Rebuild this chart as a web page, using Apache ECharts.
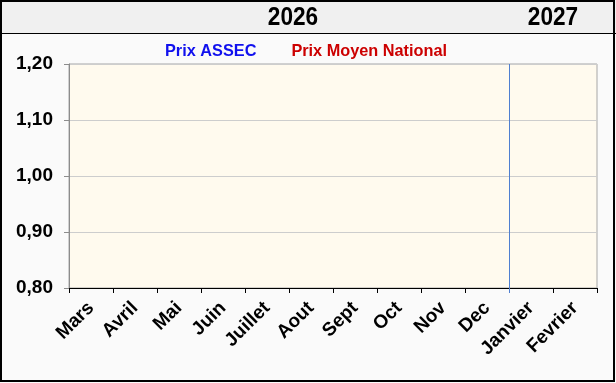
<!DOCTYPE html>
<html>
<head>
<meta charset="utf-8">
<script src="https://cdn.jsdelivr.net/npm/echarts@6/dist/echarts.min.js"></script>
<style>
  html, body { margin: 0; padding: 0; background: #fafafa; }
  #chart { width: 616px; height: 383px; }
</style>
</head>
<body>
<div id="chart"></div>
<script>
// ---- data ----
const categories = ['Mars', 'Avril', 'Mai', 'Juin', 'Juillet', 'Aout', 'Sept', 'Oct', 'Nov', 'Dec', 'Janvier', 'Fevrier'];
const years = ['2026', '2027'];
const yearFirstMonth = ['Mars', 'Janvier'];
const yearLastMonth = ['Dec', 'Fevrier'];
const prixAssec = [];          // no values plotted in the reference
const prixMoyenNational = [];  // no values plotted in the reference
const yMin = 0.8, yMax = 1.2, yInterval = 0.1;
const seriesNames = ['Prix ASSEC', 'Prix Moyen National'];
const seriesColors = ['#1010ee', '#cc0000'];
const separatorColor = '#4f7fd0';

const chart = echarts.init(document.getElementById('chart'), null, { renderer: 'canvas' });
const FONT = 'Liberation Sans, Arial, sans-serif';
const yearStartIdx = categories.indexOf(yearFirstMonth[1]);

const option = {
  backgroundColor: '#fafafa',
  animation: false,
  legend: {
    left: 155,
    top: 39,
    itemWidth: 0,
    itemHeight: 0,
    itemGap: 30,
    data: seriesNames.map((n, i) => ({
      name: n,
      icon: 'rect',
      textStyle: { color: seriesColors[i], fontWeight: 'bold', fontSize: 16.3, fontFamily: FONT }
    }))
  },
  grid: {
    left: 69, right: 19, top: 64, bottom: 95,
    show: true,
    backgroundColor: '#fffaee',
    borderColor: '#a6a6a6',
    borderWidth: 1
  },
  xAxis: {
    type: 'category',
    data: categories,
    boundaryGap: true,
    axisLine: { show: true, lineStyle: { color: '#000', width: 1 } },
    axisTick: { show: true, length: 5, alignWithLabel: false, lineStyle: { color: '#000' } },
    axisLabel: {
      interval: 0,
      rotate: 45,
      margin: 17,
      color: '#000',
      fontWeight: 'bold',
      fontSize: 19,
      fontFamily: FONT
    },
    splitLine: { show: false }
  },
  yAxis: {
    type: 'value',
    min: yMin,
    max: yMax,
    interval: yInterval,
    axisLine: { show: true, lineStyle: { color: '#8c8c8c' } },
    axisTick: { show: true, length: 5, lineStyle: { color: '#8c8c8c' } },
    axisLabel: {
      margin: 16,
      color: '#000',
      fontWeight: 'bold',
      fontSize: 19,
      fontFamily: FONT,
      formatter: (v) => v.toFixed(2).replace('.', ',')
    },
    splitLine: { show: true, lineStyle: { color: '#cdcdcd', width: 1 } }
  },
  series: [
    { name: seriesNames[0], type: 'line', data: prixAssec, itemStyle: { color: seriesColors[0] }, lineStyle: { color: seriesColors[0] } },
    { name: seriesNames[1], type: 'line', data: prixMoyenNational, itemStyle: { color: seriesColors[1] }, lineStyle: { color: seriesColors[1] } }
  ]
};
chart.setOption(option);

// positions derived from the axis scales
const px = (cat) => chart.convertToPixel({ xAxisIndex: 0 }, cat);
const band = px(categories[1]) - px(categories[0]);
const yTop = chart.convertToPixel({ yAxisIndex: 0 }, yMax);
const yBottom = chart.convertToPixel({ yAxisIndex: 0 }, yMin);
const sepX = Math.floor(px(categories[yearStartIdx]) - band / 2) + 0.5;

const yearTexts = years.map((y, i) => {
  const a = px(yearFirstMonth[i]) - band / 2;
  const b = px(yearLastMonth[i]) + band / 2;
  return {
    type: 'text',
    z: 10,
    x: (a + b) / 2 + (i === 0 ? 4 : 0),
    y: 18,
    scaleX: 0.87,
    style: {
      text: y,
      fill: '#000',
      font: 'bold 26px ' + FONT,
      align: 'center',
      verticalAlign: 'middle'
    }
  };
});

chart.setOption({
  graphic: [
    { type: 'rect', z: -10, shape: { x: 0, y: 0, width: 616, height: 33 }, style: { fill: '#f0f0f0' } },
    { type: 'line', z: 5, shape: { x1: 0, y1: 33.5, x2: 616, y2: 33.5 }, style: { stroke: '#000', lineWidth: 1 } },
    { type: 'line', z: 50, silent: true, shape: { x1: sepX, y1: yTop, x2: sepX, y2: yBottom + 5 }, style: { stroke: separatorColor, lineWidth: 1 } },
    { type: 'rect', z: 20, shape: { x: 1, y: 1, width: 613, height: 380 }, style: { fill: null, stroke: '#000', lineWidth: 2 } },
    ...yearTexts
  ]
});
</script>
</body>
</html>
